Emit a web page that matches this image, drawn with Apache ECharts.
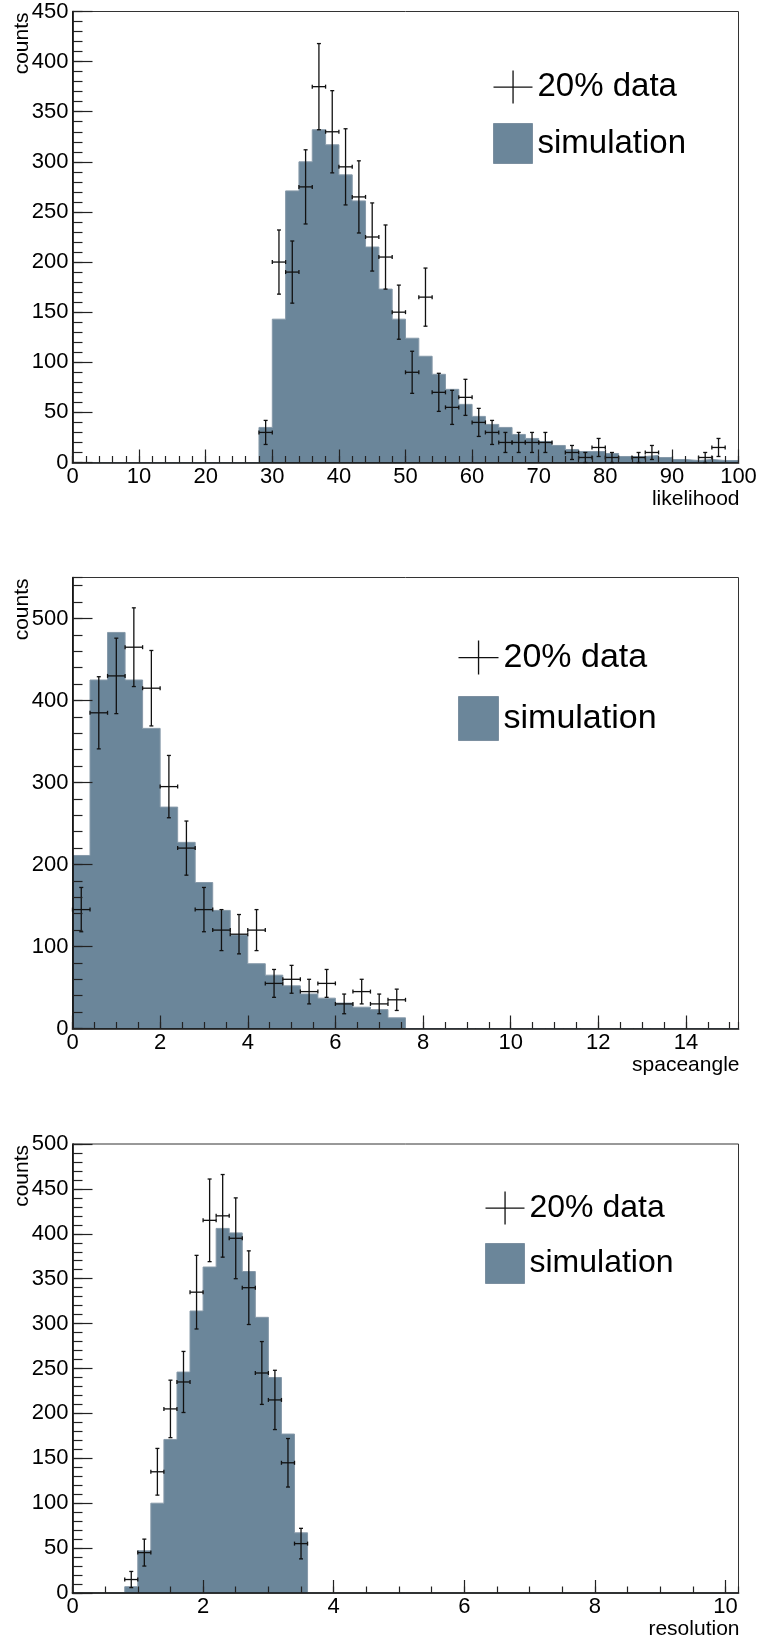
<!DOCTYPE html>
<html>
<head>
<meta charset="utf-8">
<script src="https://cdn.jsdelivr.net/npm/echarts@6/dist/echarts.min.js"></script>
<style>
html,body{margin:0;padding:0;background:#ffffff;}
#chart{width:760px;height:1645px;}
</style>
</head>
<body>
<div id="chart"></div>
<script>
// ---------------- DATA ----------------
// Panel 1: likelihood (50 bins over 0..100)
const likelihoodRange = [0, 100];
const likelihoodSim = [0,0,0,0,0,0,0,0,0,0,0,0,0,0,
  35,143,271,300,332,317,287,261,215,173,
  143,124,106,88,73,58,46,38,35,28,
  24,21,17,13,11,11,9,6,6,7,
  5,3,2,3,2,2];
const likelihoodData = [null,null,null,null,null,null,null,null,null,null,null,null,null,null,
  30,200,190,275,375,330,295,265,225,205,
  150,90,165,70,55,65,40,30,20,20,
  20,20,null,10,5,15,5,null,5,10,
  null,null,null,5,15,null];
const likelihoodErr = [null,null,null,null,null,null,null,null,null,null,null,null,null,null,
  12,32,31,37,43,41,38,36,34,32,
  27,21,29,19,17,18,14,12,10,10,
  10,10,null,7,5,9,5,null,5,7,
  null,null,null,5,9,null];

// Panel 2: spaceangle (38 bins over 0..15.2)
const spaceangleRange = [0, 15.2];
const spaceangleSim = [211,425,483,425,366,270,227,178,144,114,
  79,65,52,42,37,31,26,23,13,
  0,0,0,0,0,0,0,0,0,0,0,0,0,0,0,0,0,0,0];
const spaceangleData = [145,385,430,465,415,295,220,145,120,115,
  120,55,60,45,55,30,45,30,35,
  null,null,null,null,null,null,null,null,null,null,null,null,null,null,null,null,null,null,null];
const spaceangleErr = [27,44,46,48,46,38,33,27,25,24,
  25,17,17,15,17,12,15,12,13,
  null,null,null,null,null,null,null,null,null,null,null,null,null,null,null,null,null,null,null];

// Panel 3: resolution (51 bins over 0..10.2)
const resolutionRange = [0, 10.2];
const resolutionSim = [0,0,0,0,
  7,47,100,171,246,314,363,406,401,358,307,240,177,67,
  0,0,0,0,0,0,0,0,0,0,0,0,0,0,0,0,0,0,0,0,0,0,0,0,0,0,0,0,0,0,0,0,0];
const resolutionData = [null,null,null,null,
  15,45,135,205,235,335,415,420,395,340,245,215,145,55,
  null,null,null,null,null,null,null,null,null,null,null,null,null,null,null,null,null,null,null,null,null,null,null,null,null,null,null,null,null,null,null,null,null];
const resolutionErr = [null,null,null,null,
  9,15,26,32,34,41,46,46,45,41,35,33,27,17,
  null,null,null,null,null,null,null,null,null,null,null,null,null,null,null,null,null,null,null,null,null,null,null,null,null,null,null,null,null,null,null,null,null];

// Axis settings (labels come from these)
const axisTitles = ['likelihood', 'spaceangle', 'resolution'];
const yTitle = 'counts';
const legendNames = ['20% data', 'simulation'];
const xMajor = [10, 2, 2];
const xMinor = [2, 0.5, 0.5];
const yMax = [450, 550, 500];
const yMajor = [50, 100, 50];
const yMinor = [10, 20, 10];

// ---------------- LAYOUT / STYLE ----------------
const FONT = '"Liberation Sans", Arial, Helvetica, sans-serif';
const FILL = '#6b869a';
const EDGE = '#8699a9';
const grids = [
  {left: 72.5, top: 11.5, width: 666, height: 451},
  {left: 72.5, top: 577.5, width: 666, height: 451},
  {left: 72.5, top: 1144, width: 666, height: 449}
];
const legendLayout = [
  {left: 493, top: 67, itemWidth: 39, itemHeight: 40, itemGap: 16, fontSize: 33},
  {left: 458, top: 637, itemWidth: 40, itemHeight: 44, itemGap: 18, fontSize: 34},
  {left: 485, top: 1188, itemWidth: 39, itemHeight: 40, itemGap: 15, fontSize: 32}
];
const CROSS = 'path://M0,0h0.01v0.01h-0.01z M0,19.4h39v1.3h-39z M18.9,3.5h1.3v33h-1.3z M38.99,39.99h0.01v0.01h-0.01z';

const panels = [
  {range: likelihoodRange, sim: likelihoodSim, data: likelihoodData, err: likelihoodErr},
  {range: spaceangleRange, sim: spaceangleSim, data: spaceangleData, err: spaceangleErr},
  {range: resolutionRange, sim: resolutionSim, data: resolutionData, err: resolutionErr}
];

function renderErr(params, api) {
  const x = api.value(0), y = api.value(1), e = api.value(2), hw = api.value(3);
  const c = api.coord([x, y]);
  const t = api.coord([x, y + e]);
  const b = api.coord([x, Math.max(0, y - e)]);
  const l = api.coord([x - hw, y]);
  const r = api.coord([x + hw, y]);
  const cap = 2;
  const st = {stroke: '#111111', lineWidth: 1.3};
  const ln = (x1, y1, x2, y2) => ({type: 'line', shape: {x1, y1, x2, y2}, style: st});
  return {type: 'group', children: [
    ln(c[0], t[1], c[0], b[1]),
    ln(l[0], c[1], r[0], c[1]),
    ln(c[0] - cap, t[1], c[0] + cap, t[1]),
    ln(c[0] - cap, b[1], c[0] + cap, b[1]),
    ln(l[0], c[1] - cap, l[0], c[1] + cap),
    ln(r[0], c[1] - cap, r[0], c[1] + cap)
  ]};
}

const option = {
  animation: false,
  backgroundColor: '#ffffff',
  grid: [], xAxis: [], yAxis: [], series: [], legend: []
};

panels.forEach((p, i) => {
  const n = p.sim.length;
  const w = (p.range[1] - p.range[0]) / n;
  option.grid.push(Object.assign({show: true, borderColor: '#333333', borderWidth: 1, backgroundColor: 'transparent', outerBoundsMode: 'none'}, grids[i]));

  const xi = option.xAxis.length;
  option.xAxis.push({
    gridIndex: i, type: 'value', position: 'bottom', z: 5,
    min: p.range[0], max: p.range[1], interval: xMajor[i],
    axisLine: {show: true, onZero: false, lineStyle: {color: '#111111', width: 1.7}},
    axisTick: {show: true, inside: true, length: 13, lineStyle: {color: '#222222', width: 1.2}},
    axisLabel: {show: true, margin: 3, fontSize: 22, fontFamily: FONT, color: '#000000', showMaxLabel: i === 0, showMinLabel: true},
    splitLine: {show: false},
    name: axisTitles[i], nameLocation: 'end', nameGap: 1, nameMoveOverlap: false,
    nameTextStyle: {fontSize: 21, fontFamily: FONT, color: '#000000', align: 'right', verticalAlign: 'top', padding: [26, 0, 0, 0]}
  });
  option.xAxis.push({
    gridIndex: i, type: 'value', position: 'bottom', z: 5,
    min: p.range[0], max: p.range[1], interval: xMinor[i],
    axisLine: {show: false, onZero: false},
    axisTick: {show: true, inside: true, length: 6.5, lineStyle: {color: '#222222', width: 1.2}},
    axisLabel: {show: false}, splitLine: {show: false}
  });
  const yi = option.yAxis.length;
  option.yAxis.push({
    gridIndex: i, type: 'value', position: 'left', z: 5,
    min: 0, max: yMax[i], interval: yMajor[i],
    axisLine: {show: true, onZero: false, lineStyle: {color: '#111111', width: 1.7}},
    axisTick: {show: true, inside: true, length: 20, lineStyle: {color: '#222222', width: 1.2}},
    axisLabel: {show: true, margin: 4, fontSize: 22, fontFamily: FONT, color: '#000000', showMaxLabel: (yMax[i] % yMajor[i]) === 0},
    splitLine: {show: false},
    name: yTitle, nameLocation: 'end', nameRotate: 90, nameGap: -1, nameMoveOverlap: false,
    nameTextStyle: {fontSize: 21, fontFamily: FONT, color: '#000000', align: 'right', verticalAlign: 'bottom', padding: [0, 0, 40, 0]}
  });
  option.yAxis.push({
    gridIndex: i, type: 'value', position: 'left', z: 5,
    min: 0, max: yMax[i], interval: yMinor[i],
    axisLine: {show: false, onZero: false},
    axisTick: {show: true, inside: true, length: 10, lineStyle: {color: '#222222', width: 1.2}},
    axisLabel: {show: false}, splitLine: {show: false}
  });

  // simulation histogram as a step area through the axis scales
  const stepData = p.sim.map((v, k) => [p.range[0] + k * w, v]);
  stepData.push([p.range[1], p.sim[n - 1]]);
  option.series.push({
    name: legendNames[1], type: 'line', xAxisIndex: xi, yAxisIndex: yi,
    step: 'end', symbol: 'none', showSymbol: false, silent: true, z: 2,
    data: stepData,
    color: FILL,
    itemStyle: {color: FILL},
    lineStyle: {color: EDGE, width: 1},
    areaStyle: {color: FILL, opacity: 1}
  });

  // data points with error bars
  const pts = [];
  p.data.forEach((v, k) => {
    if (v !== null) pts.push([p.range[0] + (k + 0.5) * w, v, p.err[k], w / 2]);
  });
  option.series.push({
    name: legendNames[0], type: 'custom', xAxisIndex: xi, yAxisIndex: yi, z: 4, silent: true,
    itemStyle: {color: '#111111'},
    dimensions: ['x', 'y', 'err', 'hw'],
    encode: {x: 0, y: 1},
    renderItem: renderErr,
    data: pts
  });

  const L = legendLayout[i];
  option.legend.push({
    orient: 'vertical', left: L.left, top: L.top, padding: 0,
    itemWidth: L.itemWidth, itemHeight: L.itemHeight, itemGap: L.itemGap,
    selectedMode: false,
    textStyle: {fontSize: L.fontSize, fontFamily: FONT, color: '#000000'},
    data: [
      {name: legendNames[0], icon: CROSS, itemStyle: {color: '#111111', borderWidth: 0}},
      {name: legendNames[1], icon: 'rect', itemStyle: {color: FILL, borderColor: '#7b8fa0', borderWidth: 1}}
    ]
  });
});

const chart = echarts.init(document.getElementById('chart'), null, {renderer: 'canvas'});
chart.setOption(option);
</script>
</body>
</html>
